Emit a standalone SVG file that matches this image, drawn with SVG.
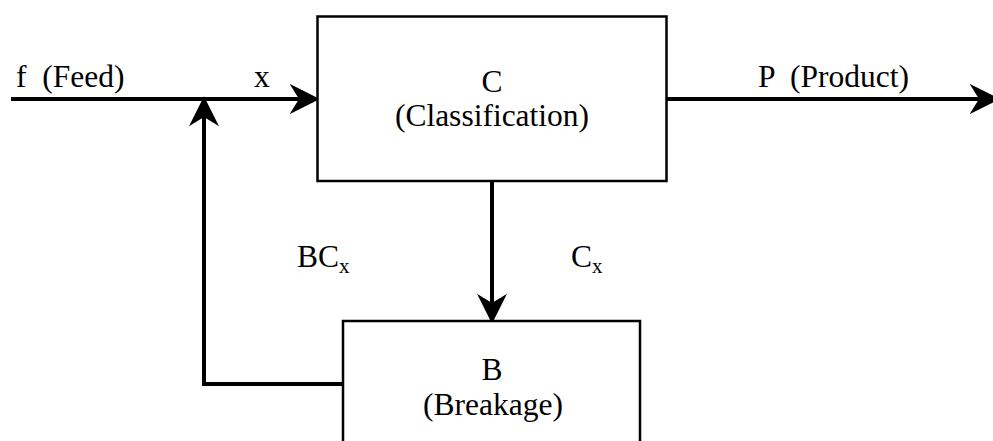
<svg xmlns="http://www.w3.org/2000/svg" width="993" height="441" viewBox="0 0 993 441">
  <style>
    .box { fill: #ffffff; stroke: #000000; stroke-width: 2.5; }
    .wire { fill: none; stroke: #000000; stroke-width: 4; stroke-linecap: butt; stroke-linejoin: miter; }
    text { font-family: 'Liberation Serif', 'Times New Roman', serif; font-size: 31.5px; fill: #000000; }
    .mid { text-anchor: middle; }
    .sub { font-size: 21px; }
  </style>
  <defs>
    <marker id="arrow" markerUnits="userSpaceOnUse" markerWidth="30" markerHeight="30" refX="8" refY="13" orient="auto" viewBox="0 0 26 26">
      <path d="M0,0 L26,13 L0,26 L8,13 Z" fill="#000000"/>
    </marker>
  </defs>

  <g id="connectors">
    <path id="feed" class="wire" d="M11,99 H299" marker-end="url(#arrow)"/>
    <path id="product" class="wire" d="M667,99 H979" marker-end="url(#arrow)"/>
    <path id="cx" class="wire" d="M492,181 V303" marker-end="url(#arrow)"/>
    <path id="bcx" class="wire" d="M343,384 H204 V117" marker-end="url(#arrow)"/>
  </g>

  <g id="node-c">
    <rect class="box" x="317.5" y="16.5" width="349" height="164.5"/>
    <text class="mid" x="492" y="92">C</text>
    <text class="mid" x="492" y="126">(Classification)</text>
  </g>

  <g id="node-b">
    <rect class="box" x="343" y="321" width="297" height="130"/>
    <text class="mid" x="492" y="380">B</text>
    <text class="mid" x="493" y="415">(Breakage)</text>
  </g>

  <g id="labels">
    <text x="16" y="87" xml:space="preserve">f  (Feed)</text>
    <text x="254" y="87">x</text>
    <text x="758" y="87" xml:space="preserve">P  (Product)</text>
    <text x="297" y="267">BC<tspan class="sub" dy="6">x</tspan></text>
    <text x="571" y="267">C<tspan class="sub" dy="6">x</tspan></text>
  </g>
</svg>
